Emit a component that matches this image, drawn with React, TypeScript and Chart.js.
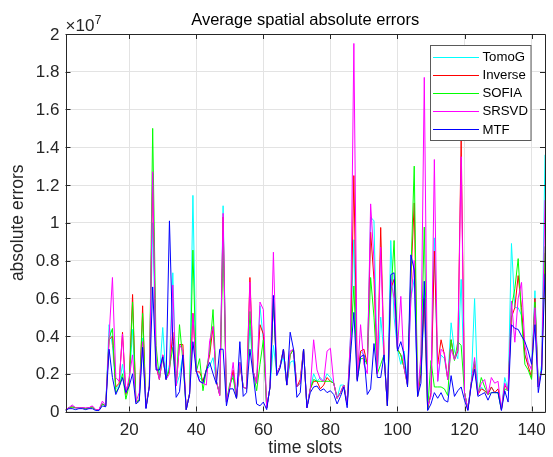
import React, { useEffect, useRef } from "react";
import { Chart, registerables } from "chart.js";

Chart.register(...registerables);

// ---------- data (values in millions; axis shows x10^7) ----------
const UNIT = 1e6;
const timeSlots: number[] = Array.from({ length: 144 }, (_, i) => i + 1);

const tomoG = [
  0.1, 0.2, 0.3, 0.2, 0.2, 0.2, 0.15, 0.2, 0.25, 0.1, 0.1, 0.4, 0.3,
  4.6, 3.5, 1.2, 1.4, 2.5, 1.2, 1.5, 4.35, 0.5, 0.6, 3.9, 0.2, 1.35,
  10.0, 2.5, 1.8, 4.45, 1.7, 2.5, 7.35, 1.35, 1.9, 3.0, 0.1, 0.95, 11.45,
  2.1, 1.8, 1.6, 2.2, 2.4, 2.85, 1.6, 0.9, 10.9, 0.5, 1.3, 2.0, 0.7,
  2.6, 1.3, 1.2, 4.5, 2.1, 1.5, 5.6, 3.8, 0.2, 1.3, 3.5, 2.0, 2.4,
  2.9, 1.4, 2.6, 2.7, 1.3, 1.5, 3.3, 0.2, 1.2, 2.0, 1.6, 1.8, 1.6,
  2.0, 1.8, 1.5, 0.7, 1.4, 1.4, 0.35, 4.0, 9.1, 1.7, 3.2, 3.0, 2.5,
  10.3, 10.1, 2.0, 5.0, 3.0, 0.3, 9.06, 5.0, 3.3, 2.5, 3.2, 1.4, 6.0,
  7.0, 0.8, 2.0, 5.5, 0.1, 1.0, 9.2, 1.6, 3.0, 2.8, 1.7, 4.7, 3.2,
  2.8, 7.0, 1.0, 0.1, 1.5, 5.98, 0.9, 1.3, 1.1, 0.9, 1.3, 1.0, 1.0,
  0.1, 1.8, 1.1, 8.9, 5.5, 5.5, 5.1, 3.0, 2.5, 2.3, 6.4, 1.3, 2.5, 13.6,
];

const inverse = [
  0.1, 0.2, 0.25, 0.2, 0.2, 0.2, 0.15, 0.2, 0.25, 0.1, 0.1, 0.4, 0.3,
  3.8, 4.0, 1.3, 1.5, 4.2, 0.9, 1.6, 6.2, 0.5, 0.6, 5.6, 0.2, 1.35,
  12.6, 2.4, 1.7, 3.0, 1.7, 2.2, 4.2, 1.35, 3.55, 3.55, 0.1, 0.95, 5.2,
  2.1, 2.1, 1.6, 2.2, 3.0, 4.5, 1.6, 0.85, 10.3, 0.5, 1.3, 2.2, 0.7,
  2.5, 1.3, 1.2, 7.1, 2.1, 1.5, 4.6, 4.1, 0.2, 1.3, 6.0, 2.0, 2.4,
  3.3, 1.4, 3.0, 3.3, 1.3, 1.7, 3.3, 0.2, 1.2, 1.6, 1.6, 1.2, 1.4,
  1.8, 1.6, 1.5, 0.7, 1.0, 1.4, 0.35, 3.5, 12.5, 1.7, 3.2, 3.3, 2.5,
  9.5, 7.0, 2.0, 9.75, 3.0, 0.3, 6.5, 7.0, 3.3, 3.0, 2.3, 1.4, 7.0,
  11.05, 0.8, 2.0, 6.0, 0.1, 1.0, 8.5, 2.5, 3.8, 3.0, 1.7, 3.8, 2.75,
  3.2, 14.4, 1.0, 0.1, 1.5, 2.5, 0.9, 1.2, 1.1, 0.9, 1.3, 1.0, 1.2,
  0.1, 1.4, 1.1, 5.0, 5.5, 7.2, 5.5, 3.0, 2.4, 1.8, 6.0, 1.3, 2.2, 8.4,
];

const sofia = [
  0.1, 0.2, 0.2, 0.2, 0.2, 0.2, 0.15, 0.2, 0.2, 0.1, 0.1, 0.4, 0.3,
  3.9, 4.4, 1.0, 1.3, 2.0, 0.65, 1.4, 5.8, 0.5, 0.6, 5.2, 0.2, 1.35,
  15.0, 3.5, 1.7, 2.9, 1.7, 2.3, 3.4, 1.35, 4.6, 2.7, 0.1, 0.95, 8.55,
  2.1, 2.8, 1.1, 2.2, 3.2, 5.4, 1.6, 0.9, 9.0, 0.5, 1.5, 1.8, 0.7,
  2.6, 1.3, 1.2, 5.3, 2.1, 1.1, 2.5, 3.8, 0.2, 1.3, 6.0, 2.0, 2.4,
  3.3, 1.4, 3.0, 3.3, 1.3, 1.5, 3.3, 0.2, 1.2, 1.7, 1.6, 1.6, 1.6,
  1.6, 1.6, 1.5, 0.7, 1.0, 1.4, 0.35, 3.5, 6.65, 1.7, 2.8, 2.8, 2.5,
  7.1, 5.0, 2.0, 2.5, 3.0, 0.3, 6.0, 9.06, 3.3, 3.0, 2.3, 1.4, 7.3,
  13.0, 0.8, 2.5, 9.77, 0.1, 2.7, 1.3, 1.3, 1.3, 1.2, 0.85, 3.8, 2.7,
  3.7, 3.5, 1.0, 0.1, 1.5, 2.7, 0.9, 1.8, 1.3, 0.9, 1.0, 1.0, 1.0,
  0.1, 1.2, 1.1, 5.5, 6.5, 8.1, 5.0, 2.5, 2.2, 1.7, 5.8, 1.3, 2.2, 8.75,
];

const srsvd = [
  0.1, 0.2, 0.35, 0.2, 0.2, 0.2, 0.2, 0.2, 0.3, 0.1, 0.1, 0.55, 0.3,
  4.0, 7.1, 1.8, 1.6, 4.1, 1.0, 1.8, 3.0, 0.5, 1.0, 3.7, 0.2, 1.35,
  12.7, 2.5, 1.7, 3.0, 1.7, 2.0, 6.7, 1.35, 3.55, 3.2, 0.1, 0.95, 5.2,
  2.1, 1.6, 1.5, 1.4, 3.75, 4.5, 1.6, 0.85, 10.5, 0.5, 1.3, 2.6, 0.7,
  2.6, 1.3, 1.2, 6.85, 2.1, 1.5, 5.8, 5.4, 0.2, 1.3, 8.44, 2.0, 2.4,
  3.3, 1.4, 3.2, 3.3, 1.3, 1.5, 3.3, 0.2, 1.2, 3.8, 2.2, 1.7, 1.6,
  3.2, 3.35, 1.5, 0.7, 1.0, 1.4, 0.35, 4.0, 19.5, 1.7, 4.6, 2.5, 2.0,
  11.0, 8.0, 2.0, 8.7, 3.0, 0.3, 7.0, 6.0, 3.3, 6.1, 2.3, 1.4, 5.9,
  8.0, 0.8, 3.0, 17.7, 0.3, 0.8, 13.35, 1.6, 3.3, 3.1, 1.7, 3.3, 2.75,
  3.3, 13.5, 1.0, 0.1, 1.5, 2.86, 0.9, 1.5, 1.7, 0.9, 1.8, 1.5, 1.6,
  0.1, 1.5, 1.1, 5.85, 3.67, 6.0, 6.84, 3.5, 2.6, 2.2, 5.5, 1.3, 2.2, 11.2,
];

const mtf = [
  0.05, 0.15, 0.15, 0.1, 0.15, 0.15, 0.1, 0.15, 0.15, 0.05, 0.05, 0.3, 0.25,
  3.3, 1.8, 0.9, 1.3, 1.8, 1.0, 1.35, 2.0, 0.4, 0.55, 3.4, 0.15, 1.3,
  6.6, 2.2, 2.2, 2.9, 1.7, 10.1, 3.7, 0.75, 1.05, 3.0, 0.1, 0.9, 3.7,
  2.15, 1.6, 1.5, 2.2, 2.6, 2.0, 1.45, 3.3, 3.3, 0.3, 1.2, 1.2, 0.7,
  3.7, 0.8, 1.0, 3.3, 1.9, 0.4, 0.3, 0.5, 0.1, 1.3, 6.15, 1.9, 2.3,
  3.3, 1.4, 4.2, 3.3, 0.75, 1.0, 3.3, 0.2, 1.0, 1.3, 1.35, 1.1, 1.2,
  1.0, 1.1, 0.9, 0.4, 0.8, 1.3, 0.2, 3.0, 5.25, 1.6, 2.9, 3.0, 0.9,
  1.2, 3.6, 1.8, 1.8, 3.0, 0.3, 7.25, 7.35, 3.2, 3.7, 3.0, 1.3, 8.3,
  7.5, 0.8, 1.5, 6.9, 0.05, 0.4, 1.0, 0.7, 1.0, 0.6, 0.5, 1.9, 0.8,
  1.1, 1.3, 0.6, 0.05, 1.4, 2.24, 0.8, 0.9, 1.0, 0.6, 1.0, 1.0, 1.0,
  0.05, 1.1, 0.5, 4.6, 4.4, 4.35, 4.0, 3.7, 3.2, 2.5, 4.6, 1.0, 2.2, 7.3,
];

const seriesNames = ["TomoG", "Inverse", "SOFIA", "SRSVD", "MTF"];
const seriesValues = [tomoG, inverse, sofia, srsvd, mtf];
const seriesColors = ["#00ffff", "#ff0000", "#00ff00", "#ff00ff", "#0000ff"];

const xTicks = [20, 40, 60, 80, 100, 120, 140];
const yTicks = [0, 0.2, 0.4, 0.6, 0.8, 1, 1.2, 1.4, 1.6, 1.8, 2]; // in units of 1e7
const yExponent = 7;

const titleText = "Average spatial absolute errors";
const xLabel = "time slots";
const yLabel = "absolute errors";

// ---------- styles ----------
const FONT = '"Liberation Sans", Arial, Helvetica, sans-serif';
const TEXT = "#262626";
const GRID = "#e3e3e3";
const TICK_PX = 17;

const decorPlugin = {
  id: "matlabDecor",
  afterDatasetsDraw(chart: any) {
    const { ctx, chartArea } = chart;
    const { left, right, top, bottom } = chartArea;
    const xs = chart.scales.x;
    const ys = chart.scales.y;
    ctx.save();
    ctx.strokeStyle = TEXT;
    ctx.lineWidth = 1;
    ctx.beginPath();
    ctx.rect(Math.round(left) + 0.5, Math.round(top) + 0.5, Math.round(right) - Math.round(left), Math.round(bottom) - Math.round(top));
    ctx.stroke();
    const tl = 5;
    ctx.beginPath();
    for (const v of xTicks) {
      const px = Math.round(xs.getPixelForValue(v)) + 0.5;
      ctx.moveTo(px, bottom);
      ctx.lineTo(px, bottom - tl);
      ctx.moveTo(px, top);
      ctx.lineTo(px, top + tl);
    }
    for (const v of yTicks) {
      const py = Math.round(ys.getPixelForValue(v * 10 ** yExponent)) + 0.5;
      ctx.moveTo(left, py);
      ctx.lineTo(left + tl, py);
      ctx.moveTo(right, py);
      ctx.lineTo(right - tl, py);
    }
    ctx.stroke();
    ctx.restore();
  },
  afterDraw(chart: any) {
    const { ctx, chartArea } = chart;
    const { left, right, top, bottom } = chartArea;
    const xs = chart.scales.x;
    const ys = chart.scales.y;
    const cx = (left + right) / 2;
    ctx.save();
    ctx.fillStyle = TEXT;

    // tick labels
    ctx.font = `${TICK_PX}px ${FONT}`;
    ctx.textAlign = "right";
    ctx.textBaseline = "middle";
    for (const v of yTicks) {
      ctx.fillText(String(v), left - 6, ys.getPixelForValue(v * 10 ** yExponent) + 1);
    }
    ctx.textAlign = "center";
    ctx.textBaseline = "alphabetic";
    for (const v of xTicks) {
      ctx.fillText(String(v), xs.getPixelForValue(v), bottom + 23);
    }

    // exponent
    ctx.textAlign = "left";
    ctx.font = `${TICK_PX}px ${FONT}`;
    const base = "\u00d710";
    ctx.fillText(base, left, top - 3);
    const w = ctx.measureText(base).width;
    ctx.font = `12px ${FONT}`;
    ctx.fillText(String(yExponent), left + w + 0.5, top - 10);

    // title
    ctx.textAlign = "center";
    ctx.font = `16.5px ${FONT}`;
    ctx.fillStyle = "#000";
    ctx.fillText(titleText, cx, 25);

    // axis labels
    ctx.fillStyle = TEXT;
    ctx.font = `17.5px ${FONT}`;
    ctx.fillText(xLabel, cx, 453);
    ctx.save();
    ctx.translate(23, (top + bottom) / 2);
    ctx.rotate(-Math.PI / 2);
    ctx.fillText(yLabel, 0, 0);
    ctx.restore();

    // legend
    const lx = 430.5, ly = 45.5, lw = 100.5, lh = 95;
    ctx.fillStyle = "#fff";
    ctx.fillRect(lx, ly, lw, lh);
    ctx.strokeStyle = "#5a5a5a";
    ctx.lineWidth = 1;
    ctx.strokeRect(lx, ly, lw, lh);
    const rowY = [56.7, 75, 93.2, 111.3, 129.4];
    ctx.font = `13.2px ${FONT}`;
    ctx.textAlign = "left";
    ctx.textBaseline = "middle";
    seriesNames.forEach((name, i) => {
      const y = rowY[i];
      ctx.strokeStyle = seriesColors[i];
      ctx.beginPath();
      ctx.moveTo(433, Math.round(y) + 0.5);
      ctx.lineTo(479, Math.round(y) + 0.5);
      ctx.stroke();
      ctx.fillStyle = "#000";
      ctx.fillText(name, 482.5, y + 0.5);
    });
    ctx.restore();
  },
};

export default function App() {
  const ref = useRef<HTMLCanvasElement | null>(null);

  useEffect(() => {
    document.body.style.margin = "0";
    document.body.style.background = "#fff";
    const canvas = ref.current;
    if (!canvas) return;
    const chart = new Chart(canvas, {
      type: "line",
      data: {
        datasets: seriesValues.map((vals, i) => ({
          label: seriesNames[i],
          data: timeSlots.map((t, j) => ({ x: t, y: vals[j] * UNIT })),
          borderColor: seriesColors[i],
          backgroundColor: seriesColors[i],
          borderWidth: 1,
          pointRadius: 0,
          fill: false,
          tension: 0,
          order: seriesNames.length - i,
        })),
      },
      options: {
        responsive: false,
        animation: false,
        events: [],
        layout: { padding: { left: 0, right: 8, top: 34, bottom: 0 } },
        plugins: {
          legend: { display: false },
          tooltip: { enabled: false },
          title: { display: false },
        },
        scales: {
          x: {
            type: "linear",
            min: 1,
            max: 144,
            afterBuildTicks: (s: any) => {
              s.ticks = xTicks.map((v) => ({ value: v }));
            },
            afterFit: (s: any) => {
              s.height = 45.5;
            },
            ticks: { display: false },
            grid: { color: GRID, lineWidth: 1, drawTicks: false },
            border: { display: false },
          },
          y: {
            type: "linear",
            min: 0,
            max: 2 * 10 ** yExponent,
            afterBuildTicks: (s: any) => {
              s.ticks = yTicks.map((v) => ({ value: v * 10 ** yExponent }));
            },
            afterFit: (s: any) => {
              s.width = 65.5;
            },
            ticks: { display: false },
            grid: { color: GRID, lineWidth: 1, drawTicks: false },
            border: { display: false },
          },
        },
      },
      plugins: [decorPlugin],
    } as any);
    return () => chart.destroy();
  }, []);

  return (
    <div style={{ width: 553, height: 457, background: "#fff" }}>
      <canvas ref={ref} width={553} height={457} style={{ display: "block", width: 553, height: 457 }} />
    </div>
  );
}
